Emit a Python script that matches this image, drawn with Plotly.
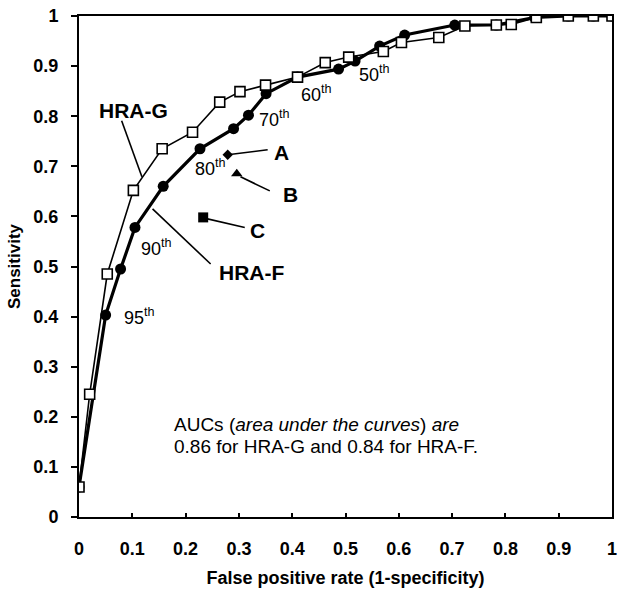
import plotly.graph_objects as go

# HRA-G (open squares)
g_fpr = [0, 0.02, 0.053, 0.102, 0.156, 0.213, 0.264, 0.302, 0.35, 0.41, 0.462, 0.506,
         0.571, 0.605, 0.675, 0.724, 0.783, 0.811, 0.858, 0.918, 0.965, 1.0]
g_sens = [0.06, 0.245, 0.485, 0.652, 0.735, 0.768, 0.828, 0.849, 0.862, 0.878, 0.907, 0.918,
          0.929, 0.947, 0.957, 0.98, 0.982, 0.983, 0.997, 1.0, 1.0, 1.0]

# HRA-F (filled circles)
f_fpr = [0, 0.05, 0.078, 0.105, 0.158, 0.227, 0.29, 0.318, 0.351, 0.41, 0.487, 0.518,
         0.564, 0.611, 0.705, 0.783, 0.855, 0.918, 0.965, 1.0]
f_sens = [0.06, 0.403, 0.495, 0.578, 0.66, 0.735, 0.775, 0.802, 0.845, 0.878, 0.894, 0.91,
          0.94, 0.962, 0.982, 0.982, 0.997, 1.0, 1.0, 1.0]

# Single points A, B, C
pt_names = ["A", "B", "C"]
pt_fpr = [0.279, 0.296, 0.233]
pt_sens = [0.723, 0.685, 0.598]
pt_symbols = ["diamond", "triangle-up", "square"]
pt_sizes = [8, 10, 10]

# percentile labels
pct_text = ["95", "90", "80", "70", "60", "50"]
pct_x = [0.080, 0.113, 0.214, 0.334, 0.413, 0.521]
pct_y = [0.400, 0.537, 0.697, 0.796, 0.846, 0.886]

auc_lines = ["AUCs (<i>area under the curves</i>) <i>are</i>",
             "0.86 for HRA-G and 0.84 for HRA-F."]
auc_y = [0.184, 0.140]

x_ticks = [0, 0.1, 0.2, 0.3, 0.4, 0.5, 0.6, 0.7, 0.8, 0.9, 1]
x_tick_text = ["0", "0.1", "0.2", "0.3", "0.4", "0.5", "0.6", "0.7", "0.8", "0.9", "1"]
y_ticks = x_ticks
y_tick_text = x_tick_text

FONT = "Arial, Liberation Sans, Helvetica, sans-serif"

fig = go.Figure()
fig.add_trace(go.Scatter(x=f_fpr, y=f_sens, mode="lines+markers", name="HRA-F",
                         line=dict(color="black", width=3.2),
                         marker=dict(symbol="circle", size=11, color="black")))
fig.add_trace(go.Scatter(x=g_fpr, y=g_sens, mode="lines+markers", name="HRA-G",
                         line=dict(color="black", width=1.6),
                         marker=dict(symbol="square", size=10, color="white",
                                     line=dict(color="black", width=1.6))))
for n, x, y, s, sz in zip(pt_names, pt_fpr, pt_sens, pt_symbols, pt_sizes):
    fig.add_trace(go.Scatter(x=[x], y=[y], mode="markers", name=n,
                             marker=dict(symbol=s, size=sz, color="black")))

anns = []
for t, x, y in zip(pct_text, pct_x, pct_y):
    anns.append(dict(x=x, y=y, xref="x", yref="y", text=t + "<sup>th</sup>",
                     showarrow=False, xanchor="left", yanchor="middle",
                     font=dict(family=FONT, size=18, color="black")))

# bold labels with leader lines
labels = [
    ("HRA-G", 0.103, 0.811, 0.08, 0.791, 0.118, 0.679),
    ("HRA-F", 0.323, 0.489, 0.247, 0.505, 0.138, 0.615),
    ("A", 0.379, 0.728, 0.354, 0.733, 0.279, 0.723),
    ("B", 0.397, 0.643, 0.358, 0.651, 0.303, 0.679),
    ("C", 0.334, 0.572, 0.311, 0.578, 0.233, 0.597),
]
shapes = []
for txt, tx, ty, x0, y0, x1, y1 in labels:
    anns.append(dict(x=tx, y=ty, xref="x", yref="y", text="<b>%s</b>" % txt,
                     showarrow=False, xanchor="center", yanchor="middle",
                     font=dict(family=FONT, size=21, color="black")))
    shapes.append(dict(type="line", xref="x", yref="y", x0=x0, y0=y0, x1=x1, y1=y1,
                       line=dict(color="black", width=1.6)))

for t, y in zip(auc_lines, auc_y):
    anns.append(dict(x=0.175, y=y, xref="x", yref="y", text=t,
                     showarrow=False, xanchor="left", yanchor="middle", align="left",
                     font=dict(family=FONT, size=19, color="black")))

fig.update_layout(
    width=618, height=593,
    margin=dict(l=79, r=6, t=16, b=76),
    paper_bgcolor="white", plot_bgcolor="white",
    showlegend=False,
    annotations=anns, shapes=shapes,
    font=dict(family=FONT, color="black"),
)
fig.update_xaxes(range=[0, 1], tickvals=x_ticks, ticktext=x_tick_text,
                 ticks="inside", ticklen=4, tickwidth=1.5, tickcolor="black",
                 showgrid=False, zeroline=False, showline=True, linecolor="black",
                 linewidth=2, mirror=True, ticklabelstandoff=14, automargin=False,
                 ticklabeloverflow="allow",
                 tickfont=dict(family=FONT, size=18, color="black", weight="bold"),
                 title=dict(text="<b>False positive rate (1-specificity)</b>",
                            font=dict(family=FONT, size=18, color="black"), standoff=14))
fig.update_yaxes(range=[0, 1], tickvals=y_ticks, ticktext=y_tick_text,
                 ticks="outside", ticklen=6, tickwidth=1.5, tickcolor="black",
                 showgrid=False, zeroline=False, showline=True, linecolor="black",
                 linewidth=2, mirror=True, ticklabelstandoff=9, automargin=False,
                 ticklabeloverflow="allow",
                 tickfont=dict(family=FONT, size=18, color="black", weight="bold"),
                 title=dict(text="<b>Sensitivity</b>",
                            font=dict(family=FONT, size=17, color="black"), standoff=8))

fig.write_html("out.html", config={"displayModeBar": False},
               post_script="document.body.style.margin='0';document.body.style.overflow='hidden';")
